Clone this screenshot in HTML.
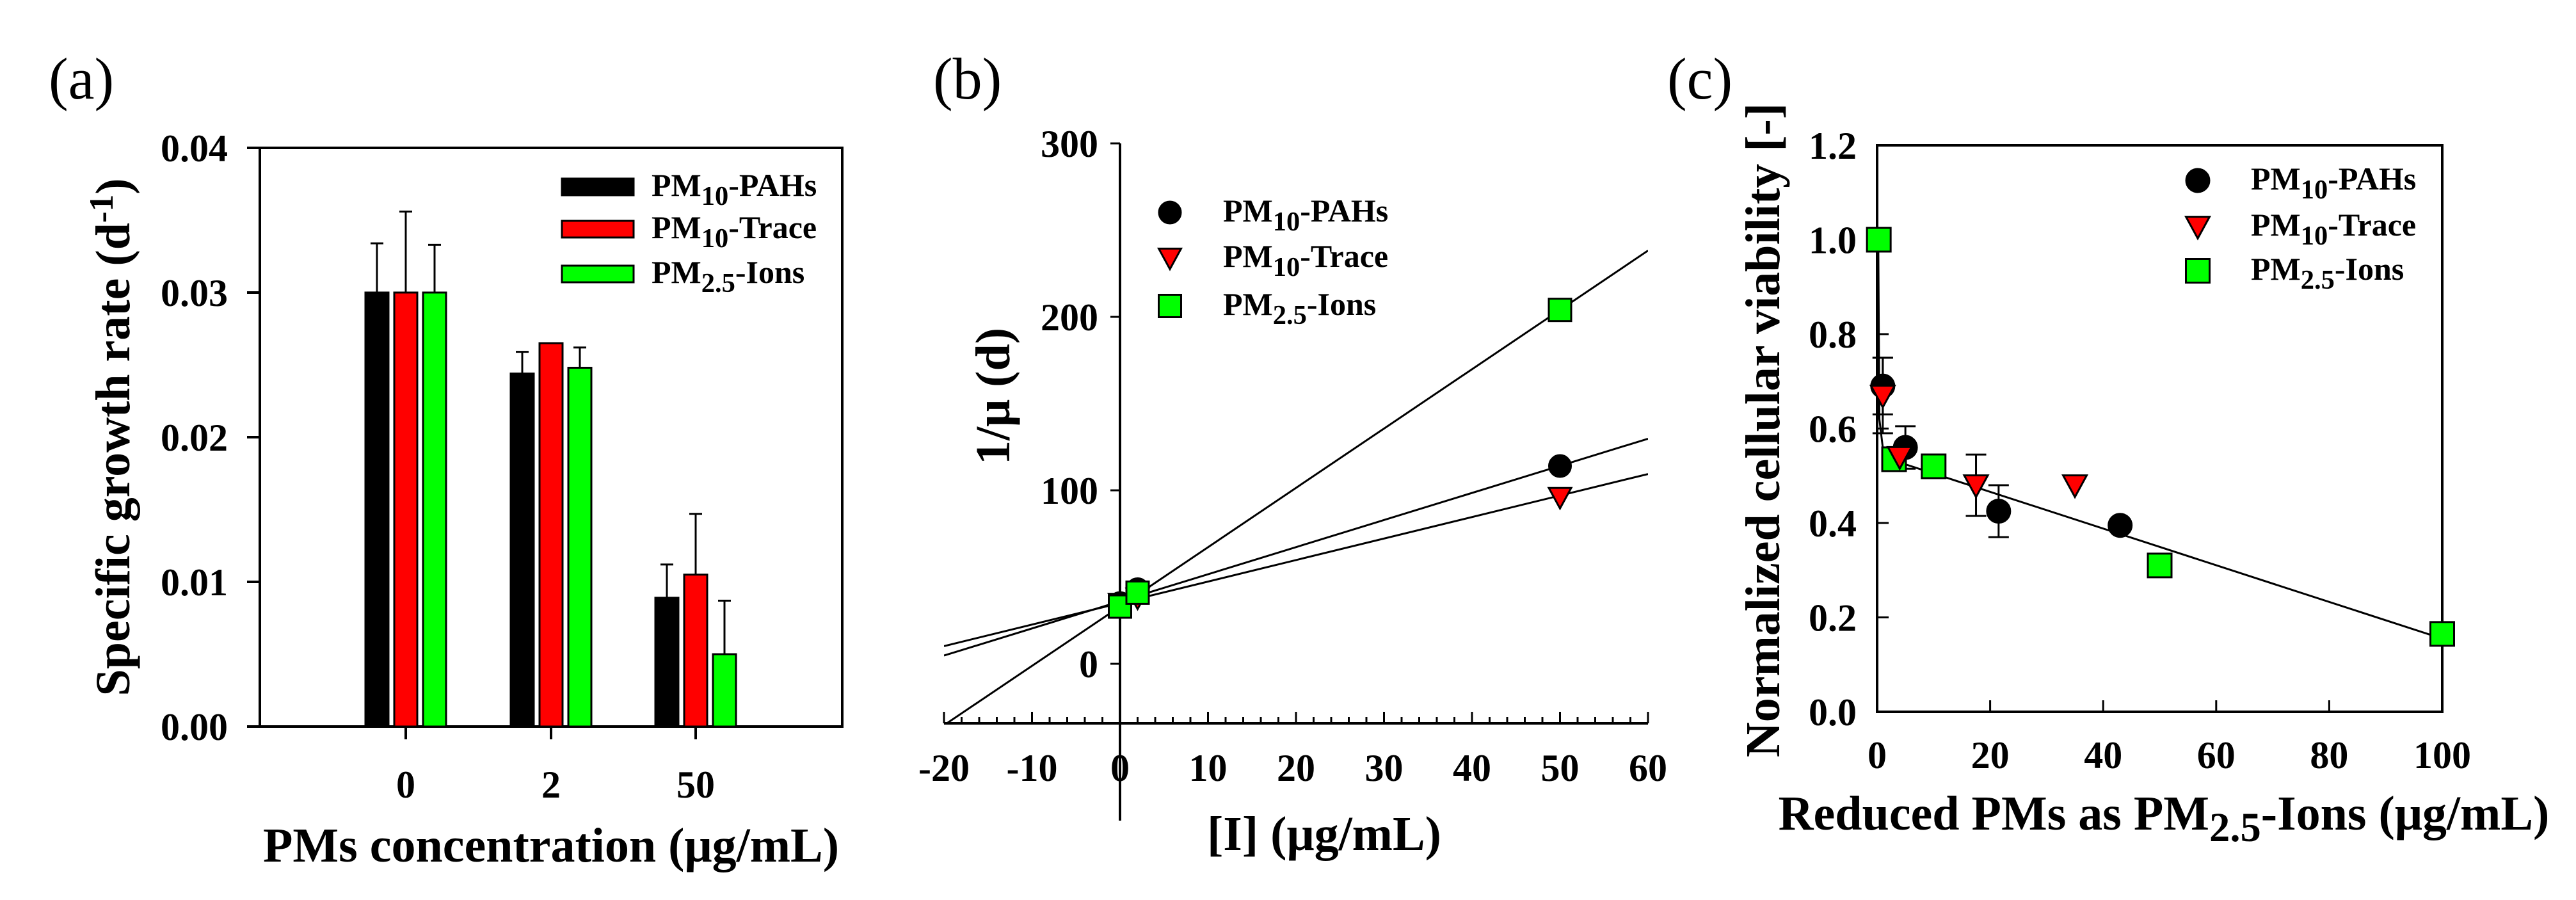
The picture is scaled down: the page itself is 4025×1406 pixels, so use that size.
<!DOCTYPE html>
<html><head><meta charset="utf-8">
<style>
html,body{margin:0;padding:0;background:#fff;}
svg{display:block;}
svg text{font-family:"Liberation Serif","Times New Roman","Noto Serif CJK SC",serif;}
.t{font-weight:bold;font-size:60px;}
.ti{font-weight:bold;font-size:76px;}
.lg{font-weight:bold;font-size:50px;}
.pl{font-size:92px;font-weight:normal;}
</style></head>
<body>
<svg id="fig" width="4025" height="1406" viewBox="0 0 4025 1406" xmlns="http://www.w3.org/2000/svg">
<rect width="4025" height="1406" fill="#fff"/>
<g id="pa"></g>
<g id="pb"></g>
<g id="pc"></g>
</svg>
<script>
// ---------- Panel (a) data ----------
const aCategories = ["0", "2", "50"];
const aPAHs = [0.0300, 0.0244, 0.0089];
const aPAHsErr = [0.0034, 0.0015, 0.0023];
const aTrace = [0.0300, 0.0265, 0.0105];
const aTraceErr = [0.0056, 0, 0.0042];
const aIons = [0.0300, 0.0248, 0.0050];
const aIonsErr = [0.0033, 0.0014, 0.0037];
const aYTicks = [0, 0.01, 0.02, 0.03, 0.04];
const aYTickLabels = ["0.00", "0.01", "0.02", "0.03", "0.04"];

// ---------- Panel (b) data ----------
const bPAHsX = [0, 2, 50];
const bPAHsY = [35, 43, 114];
const bTraceX = [0, 2, 50];
const bTraceY = [35, 38, 96];
const bIonsX = [0, 2, 50];
const bIonsY = [33, 41, 204];
const bFitSlopes = [1.5625, 1.24, 3.42];
const bFitIntercepts = [36, 35, 33];
const bXTicks = [-20, -10, 0, 10, 20, 30, 40, 50, 60];
const bYTicks = [0, 100, 200, 300];

// ---------- Panel (c) data ----------
const cPAHsX = [1, 5, 21.5, 43];
const cPAHsY = [0.69, 0.56, 0.425, 0.395];
const cPAHsErr = [0.06, 0.045, 0.055, 0];
const cTraceX = [1, 4, 17.5, 35];
const cTraceY = [0.67, 0.54, 0.48, 0.48];
const cTraceErr = [0.08, 0, 0.065, 0];
const cIonsX = [0.3, 3, 10, 50, 100];
const cIonsY = [1.0, 0.535, 0.52, 0.31, 0.165];
const cFitX = [0.2, 0.4, 1, 2, 3, 100];
const cFitY = [1.0, 0.62, 0.56, 0.54, 0.532, 0.155];
const cXTicks = [0, 20, 40, 60, 80, 100];
const cYTicks = [0, 0.2, 0.4, 0.6, 0.8, 1.0, 1.2];
const cYTickLabels = ["0.0", "0.2", "0.4", "0.6", "0.8", "1.0", "1.2"];

const NS = "http://www.w3.org/2000/svg";
const FONT = '"Liberation Serif","Times New Roman",serif';
function mk(parent, tag, attrs, text) {
  const e = document.createElementNS(NS, tag);
  for (const k in attrs) e.setAttribute(k, attrs[k]);
  if (tag === "text") e.setAttribute("font-family", FONT);
  if (text !== undefined) e.textContent = text;
  parent.appendChild(e);
  return e;
}
function line(p, x1, y1, x2, y2, w) {
  return mk(p, "line", {x1: x1, y1: y1, x2: x2, y2: y2, stroke: "#000", "stroke-width": w || 4});
}
function pmLabel(p, x, y, sub, rest, cls, name) {
  const t = mk(p, "text", {x: x, y: y, class: cls});
  
  
  mk(t, "tspan", {}, "PM");
  mk(t, "tspan", {dy: 14, "font-size": "0.85em"}, sub);
  mk(t, "tspan", {dy: -14}, rest);
  return t;
}
function marker(p, kind, x, y, s) {
  let e;
  if (kind === "circle") e = mk(p, "circle", {cx: x, cy: y, r: s / 2, fill: "#000", stroke: "#000", "stroke-width": 2});
  else if (kind === "tri") e = mk(p, "polygon", {points: (x - s / 2) + "," + (y - s / 2.4) + " " + (x + s / 2) + "," + (y - s / 2.4) + " " + x + "," + (y + s / 2), fill: "#ff0000", stroke: "#000", "stroke-width": 3});
  else e = mk(p, "rect", {x: x - s / 2, y: y - s / 2, width: s, height: s, fill: "#00ff00", stroke: "#000", "stroke-width": 3});
  return e;
}

// ================= Panel A =================
(function () {
  const g = document.getElementById("pa");
  const L = 406, R = 1316, T = 231, B = 1135;
  const y = v => B - (v / 0.04) * (B - T);
  const catX = [634, 861, 1087];
  const bw = 36, gap = 45;
  let t = mk(g, "text", {x: 76, y: 154, class: "pl"}, "(a)");
  
  
  const box = mk(g, "rect", {x: L, y: T, width: R - L, height: B - T, fill: "none", stroke: "#000", "stroke-width": 4});
  
  
  aYTicks.forEach((v, i) => {
    line(g, L - 20, y(v), L, y(v));
    const tl = mk(g, "text", {x: L - 50, y: y(v) + 21, class: "t", "text-anchor": "end"}, aYTickLabels[i]);
    
    
  });
  const series = [[aPAHs, aPAHsErr, "#000000", -1], [aTrace, aTraceErr, "#ff0000", 0], [aIons, aIonsErr, "#00ff00", 1]];
  aCategories.forEach((c, i) => {
    line(g, catX[i], B, catX[i], B + 20);
    const tl = mk(g, "text", {x: catX[i], y: 1246, class: "t", "text-anchor": "middle"}, c);
    
    
    series.forEach(s => {
      const cx = catX[i] + s[3] * gap;
      const v = s[0][i], e = s[1][i];
      if (e > 0) {
        line(g, cx, y(v), cx, y(v + e), 3);
        line(g, cx - 10, y(v + e), cx + 10, y(v + e), 3);
      }
      const r = mk(g, "rect", {x: cx - bw / 2, y: y(v), width: bw, height: B - y(v), fill: s[2], stroke: "#000", "stroke-width": 3});
      
      
    });
  });
  t = mk(g, "text", {x: 861, y: 1346, class: "ti", "text-anchor": "middle"}, "PMs concentration (μg/mL)");
  
  
  t = mk(g, "text", {x: 0, y: 0, class: "ti", "text-anchor": "middle", transform: "translate(202,683) rotate(-90)"});
  
  
  mk(t, "tspan", {}, "Specific growth rate (d");
  mk(t, "tspan", {dy: -26, "font-size": "0.7em"}, "-1");
  mk(t, "tspan", {dy: 26}, ")");
  const legRows = [[292, "#000000", "10", "-PAHs"], [358, "#ff0000", "10", "-Trace"], [428, "#00ff00", "2.5", "-Ions"]];
  legRows.forEach(r => {
    const sw = mk(g, "rect", {x: 878, y: r[0] - 13, width: 112, height: 26, fill: r[1], stroke: "#000", "stroke-width": 3});
    
    
    pmLabel(g, 1018, r[0] + 14, r[2], r[3], "lg", "legend-entry");
  });
})();

// ================= Panel B =================
(function () {
  const g = document.getElementById("pb");
  const x0 = 1750, pxPer10 = 137.5, yz = 1037, pxPer100 = 271;
  const X = v => x0 + v / 10 * pxPer10;
  const Y = v => yz - v / 100 * pxPer100;
  const axisY = 1130;
  let t = mk(g, "text", {x: 1458, y: 154, class: "pl"}, "(b)");
  
  
  mk(g, "clipPath", {id: "clipb"}).appendChild(mk(g, "rect", {x: X(-20), y: 156, width: X(60) - X(-20), height: axisY - 156}));
  const fg = mk(g, "g", {"clip-path": "url(#clipb)"});
  bFitSlopes.forEach((m, i) => {
    const l = line(fg, X(-20), Y(bFitIntercepts[i] + m * -20), X(60), Y(bFitIntercepts[i] + m * 60), 3);
    
    
  });
  line(g, X(-20), axisY, X(60), axisY, 4);
  line(g, x0, Y(300), x0, 1282, 4);
  for (let v = -20; v <= 60; v += 2) {
    const major = v % 10 === 0;
    line(g, X(v), axisY, X(v), axisY - (major ? 18 : 10), 3);
  }
  bXTicks.forEach(v => {
    const tl = mk(g, "text", {x: X(v), y: 1220, class: "t", "text-anchor": "middle"}, String(v));
    
    
  });
  bYTicks.forEach(v => {
    line(g, x0 - 15, Y(v), x0, Y(v), 3);
    const tl = mk(g, "text", {x: 1716, y: Y(v) + 21, class: "t", "text-anchor": "end"}, String(v));
    
    
  });
  const S = 35;
  bPAHsX.forEach((v, i) => { const m = marker(g, "circle", X(v), Y(bPAHsY[i]), S);   });
  bTraceX.forEach((v, i) => { const m = marker(g, "tri", X(v), Y(bTraceY[i]), S);   });
  bIonsX.forEach((v, i) => { const m = marker(g, "sq", X(v), Y(bIonsY[i]), S);   });
  t = mk(g, "text", {x: 2069, y: 1328, class: "ti", "text-anchor": "middle"}, "[I]  (μg/mL)");
  
  
  t = mk(g, "text", {x: 0, y: 0, class: "ti", "text-anchor": "middle", transform: "translate(1577,619) rotate(-90)"}, "1/μ (d)");
  
  
  const leg = [[332, "circle", "10", "-PAHs"], [403, "tri", "10", "-Trace"], [478, "sq", "2.5", "-Ions"]];
  leg.forEach(r => {
    const m = marker(g, r[1], 1828, r[0], S);
    
    
    pmLabel(g, 1911, r[0] + 14, r[2], r[3], "lg", "legend-entry");
  });
})();

// ================= Panel C =================
(function () {
  const g = document.getElementById("pc");
  const L = 2933, R = 3816, T = 227, B = 1112;
  const X = v => L + v / 100 * (R - L);
  const Y = v => B - v / 1.2 * (B - T);
  let t = mk(g, "text", {x: 2605, y: 154, class: "pl"}, "(c)");
  
  
  const box = mk(g, "rect", {x: L, y: T, width: R - L, height: B - T, fill: "none", stroke: "#000", "stroke-width": 4});
  
  
  cXTicks.forEach(v => {
    line(g, X(v), B, X(v), B - 18, 3);
    const tl = mk(g, "text", {x: X(v), y: 1200, class: "t", "text-anchor": "middle"}, String(v));
    
    
  });
  cYTicks.forEach((v, i) => {
    line(g, L, Y(v), L + 18, Y(v), 3);
    const tl = mk(g, "text", {x: 2901, y: Y(v) + 21, class: "t", "text-anchor": "end"}, cYTickLabels[i]);
    
    
  });
  const fit = mk(g, "polyline", {points: cFitX.map((v, i) => X(v) + "," + Y(cFitY[i])).join(" "), fill: "none", stroke: "#000", "stroke-width": 3});
  
  
  function err(x, y, e) {
    if (e <= 0) return;
    line(g, X(x), Y(y - e), X(x), Y(y + e), 3);
    line(g, X(x) - 16, Y(y + e), X(x) + 16, Y(y + e), 3);
    line(g, X(x) - 16, Y(y - e), X(x) + 16, Y(y - e), 3);
  }
  cPAHsX.forEach((v, i) => err(v, cPAHsY[i], cPAHsErr[i]));
  cTraceX.forEach((v, i) => err(v, cTraceY[i], cTraceErr[i]));
  const S = 37;
  cIonsX.forEach((v, i) => { const m = marker(g, "sq", X(v), Y(cIonsY[i]), S);   });
  cPAHsX.forEach((v, i) => { const m = marker(g, "circle", X(v), Y(cPAHsY[i]), S);   });
  cTraceX.forEach((v, i) => { const m = marker(g, "tri", X(v), Y(cTraceY[i]), S);   });
  t = mk(g, "text", {x: 3381, y: 1296, class: "ti", "text-anchor": "middle"});
  
  
  mk(t, "tspan", {}, "Reduced PMs as PM");
  mk(t, "tspan", {dy: 18, "font-size": "0.85em"}, "2.5");
  mk(t, "tspan", {dy: -18}, "-Ions (μg/mL)");
  t = mk(g, "text", {x: 0, y: 0, class: "ti", "text-anchor": "middle", transform: "translate(2780,672) rotate(-90)"}, "Normalized cellular viability [-]");
  
  
  const leg = [[282, "circle", "10", "-PAHs"], [354, "tri", "10", "-Trace"], [423, "sq", "2.5", "-Ions"]];
  leg.forEach(r => {
    const m = marker(g, r[1], 3434, r[0], S);
    
    
    pmLabel(g, 3517, r[0] + 14, r[2], r[3], "lg", "legend-entry");
  });
})();
</script>
</body></html>
